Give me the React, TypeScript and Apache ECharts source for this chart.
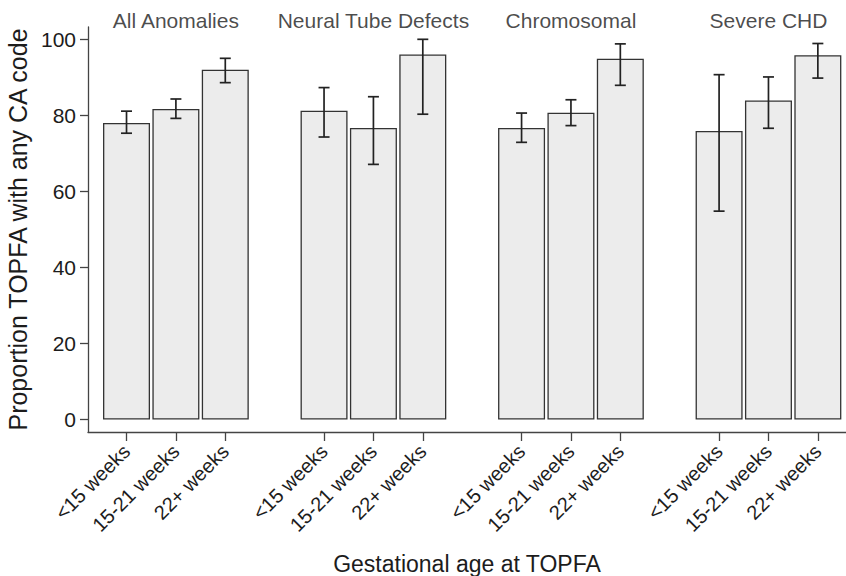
import React, { useEffect, useRef } from "react";
import * as echarts from "echarts";

const groups = ["All Anomalies", "Neural Tube Defects", "Chromosomal", "Severe CHD"];
const ageBands = ["<15 weeks", "15-21 weeks", "22+ weeks"];
const proportion = [
  [78.0, 81.7, 92.0],
  [81.2, 76.7, 96.0],
  [76.7, 80.7, 94.9],
  [75.9, 83.9, 95.8],
];
const ciLower = [
  [75.3, 79.2, 88.6],
  [74.3, 67.1, 80.3],
  [72.9, 77.3, 87.9],
  [54.8, 76.6, 89.8],
];
const ciUpper = [
  [81.1, 84.3, 95.0],
  [87.3, 84.9, 100.0],
  [80.6, 84.1, 98.8],
  [90.7, 90.1, 98.9],
];
const yTicks = [0, 20, 40, 60, 80, 100];

const FONT = "'Liberation Sans', Arial, Helvetica, sans-serif";
const INK = "#1c1c1c";

export default function App() {
  const ref = useRef<HTMLDivElement>(null);
  useEffect(() => {
    if (!ref.current) return;
    const chart = echarts.init(ref.current, null, { renderer: "svg" });
    const slot = (g: number, b: number) => g * (ageBands.length + 1) + b;
    const barData: any[] = [];
    const errData: any[] = [];
    const tickPos: number[] = [];
    const labelMap: Record<number, string> = {};
    groups.forEach((_, g) => {
      ageBands.forEach((band, b) => {
        const x = slot(g, b);
        barData.push([x, proportion[g][b]]);
        errData.push([x, ciLower[g][b], ciUpper[g][b]]);
        tickPos.push(x);
        labelMap[x] = band;
      });
    });
    const titleData = groups.map((name, g) => ({ name, value: [slot(g, 1), 103.24] }));

    chart.setOption({
      animation: false,
      textStyle: { fontFamily: FONT },
      grid: {
        left: 88,
        right: 0,
        top: 27,
        bottom: 144,
        containLabel: false,
        outerBoundsMode: "none",
      },
      xAxis: {
        type: "value",
        min: -0.78,
        max: 14.57,
        name: "Gestational age at TOPFA",
        nameLocation: "middle",
        nameGap: 120,
        nameTextStyle: { fontSize: 23, color: INK, fontFamily: FONT },
        axisLine: { show: true, onZero: false, lineStyle: { color: "#444", width: 1.3 } },
        axisTick: { show: true, length: 9, customValues: tickPos, lineStyle: { color: "#444", width: 1.3 } },
        axisLabel: {
          customValues: tickPos,
          rotate: 45,
          margin: 16,
          fontSize: 20,
          color: INK,
          fontFamily: FONT,
          formatter: (v: number) => labelMap[Math.round(v)] ?? "",
        },
        splitLine: { show: false },
      },
      yAxis: {
        type: "value",
        min: -3.3,
        max: 103.24,
        name: "Proportion TOPFA with any CA code",
        nameLocation: "middle",
        nameGap: 50,
        nameTextStyle: { fontSize: 25, color: INK, fontFamily: FONT },
        axisLine: { show: true, onZero: false, lineStyle: { color: "#444", width: 1.3 } },
        axisTick: { show: true, length: 8, customValues: yTicks, lineStyle: { color: "#444", width: 1.3 } },
        axisLabel: { customValues: yTicks, fontSize: 21, color: INK, margin: 12, fontFamily: FONT },
        splitLine: { show: false },
      },
      series: [
        {
          type: "bar",
          data: barData,
          barWidth: 47,
          itemStyle: { color: "#ececec", borderColor: "#333", borderWidth: 1.3 },
          silent: true,
        },
        {
          type: "custom",
          data: errData,
          encode: { x: 0, y: [1, 2] },
          silent: true,
          renderItem: (params: any, api: any) => {
            const x = api.value(0);
            const lo = api.coord([x, api.value(1)]);
            const hi = api.coord([x, api.value(2)]);
            const cap = 5.5;
            const style = { stroke: "#222", lineWidth: 1.7 };
            return {
              type: "group",
              children: [
                { type: "line", shape: { x1: lo[0], y1: lo[1], x2: hi[0], y2: hi[1] }, style },
                { type: "line", shape: { x1: lo[0] - cap, y1: lo[1], x2: lo[0] + cap, y2: lo[1] }, style },
                { type: "line", shape: { x1: hi[0] - cap, y1: hi[1], x2: hi[0] + cap, y2: hi[1] }, style },
              ],
            };
          },
          z: 5,
        },
        {
          type: "scatter",
          data: titleData,
          symbolSize: 0,
          silent: true,
          label: {
            show: true,
            position: "top",
            distance: 5,
            offset: [0, 9],
            formatter: "{b}",
            fontSize: 21,
            color: INK,
            fontFamily: FONT,
          },
        },
      ],
    });
    return () => chart.dispose();
  }, []);
  return (
    <div
      ref={ref}
      style={{ position: "fixed", left: 0, top: 0, width: 846, height: 576, background: "#fff" }}
    />
  );
}
